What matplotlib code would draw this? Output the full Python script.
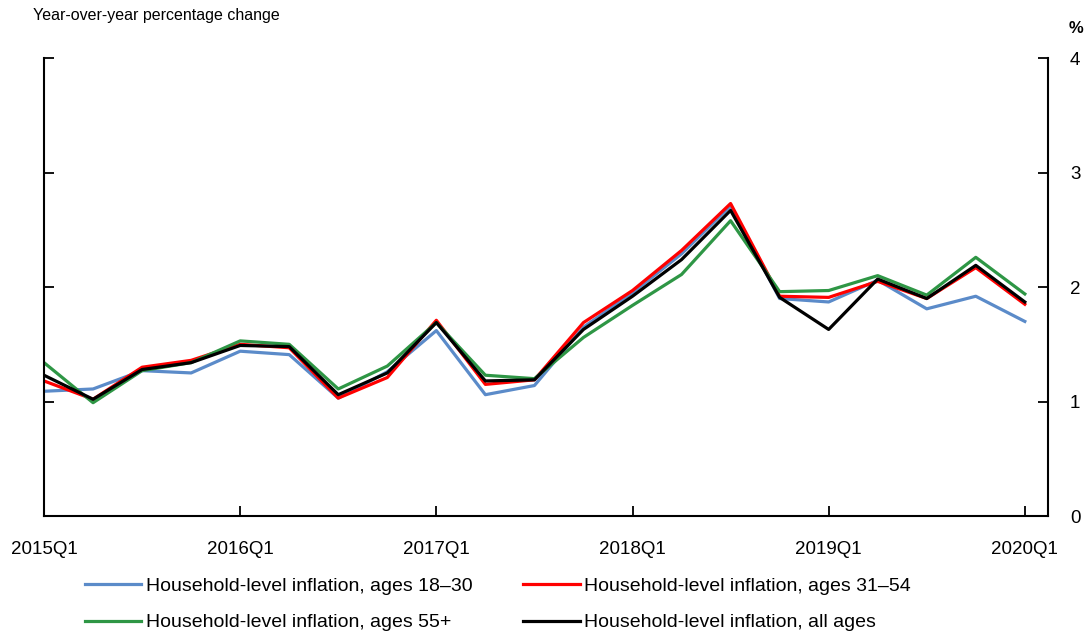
import numpy as np
import matplotlib
matplotlib.use("Agg")
import matplotlib.pyplot as plt

plt.rcParams['font.family'] = ['Liberation Sans', 'DejaVu Sans']

quarters = [f"{y}Q{q}" for y in range(2015, 2021) for q in range(1, 5)][:21]
tick_labels = ['2015Q1', '2016Q1', '2017Q1', '2018Q1', '2019Q1', '2020Q1']

ages_18_30 = [1.09, 1.11, 1.27, 1.25, 1.44, 1.41, 1.03, 1.26, 1.62, 1.06, 1.14,
              1.65, 1.95, 2.29, 2.71, 1.90, 1.87, 2.06, 1.81, 1.92, 1.70]
ages_31_54 = [1.18, 1.02, 1.30, 1.36, 1.50, 1.47, 1.03, 1.21, 1.71, 1.15, 1.19,
              1.69, 1.97, 2.32, 2.73, 1.92, 1.91, 2.05, 1.90, 2.17, 1.85]
ages_55 = [1.34, 0.99, 1.27, 1.34, 1.53, 1.50, 1.11, 1.31, 1.69, 1.23, 1.20,
           1.56, 1.84, 2.11, 2.58, 1.96, 1.97, 2.10, 1.93, 2.26, 1.94]
all_ages = [1.23, 1.02, 1.28, 1.34, 1.49, 1.48, 1.06, 1.25, 1.69, 1.18, 1.19,
            1.63, 1.92, 2.24, 2.67, 1.91, 1.63, 2.07, 1.90, 2.19, 1.87]

x = np.arange(len(quarters))

fig = plt.figure(figsize=(10.87, 6.32), dpi=100)
ax = fig.add_axes([0.0405, 0.1835, 0.9235, 0.7245])

l1, = ax.plot(x, ages_18_30, color='#5B8BC9', lw=2.3, label='Household-level inflation, ages 18\u201330')
l2, = ax.plot(x, ages_31_54, color='#FF0000', lw=2.3, label='Household-level inflation, ages 31\u201354')
l3, = ax.plot(x, ages_55, color='#2E9645', lw=2.3, label='Household-level inflation, ages 55+')
l4, = ax.plot(x, all_ages, color='black', lw=2.3, label='Household-level inflation, all ages')

ax.set_xlim(0, 20.47)
ax.set_ylim(0, 4)
ax.set_xticks([quarters.index(t) for t in tick_labels])
ax.set_xticklabels(tick_labels, fontsize=13.5)
ax.set_yticks([0, 1, 2, 3, 4])
ax.tick_params(axis='y', which='both', direction='in', length=7, width=1.3,
               left=True, right=True, labelleft=False, labelright=True, labelsize=13.5, pad=16)
ax.tick_params(axis='x', direction='in', length=7, width=1.3, pad=18)
ax.spines['top'].set_visible(False)
for s in ['left', 'right', 'bottom']:
    ax.spines[s].set_linewidth(1.5)

fig.text(0.03, 0.975, 'Year-over-year percentage change', fontsize=11.5, va='center')
fig.text(0.99, 0.955, '%', fontsize=12, fontweight='bold', ha='center', va='center')

# row-wise order like the original: 18-30, 31-54 / 55+, all ages
fig.legend([l1, l3, l2, l4], [h.get_label() for h in [l1, l3, l2, l4]],
           loc='upper left', bbox_to_anchor=(0.078, 0.086), ncol=2, frameon=False,
           fontsize=14, handlelength=2.9, columnspacing=2.6, handletextpad=0.25,
           labelspacing=0.95, borderpad=0, borderaxespad=0)

fig.savefig('out.png', dpi=100)
